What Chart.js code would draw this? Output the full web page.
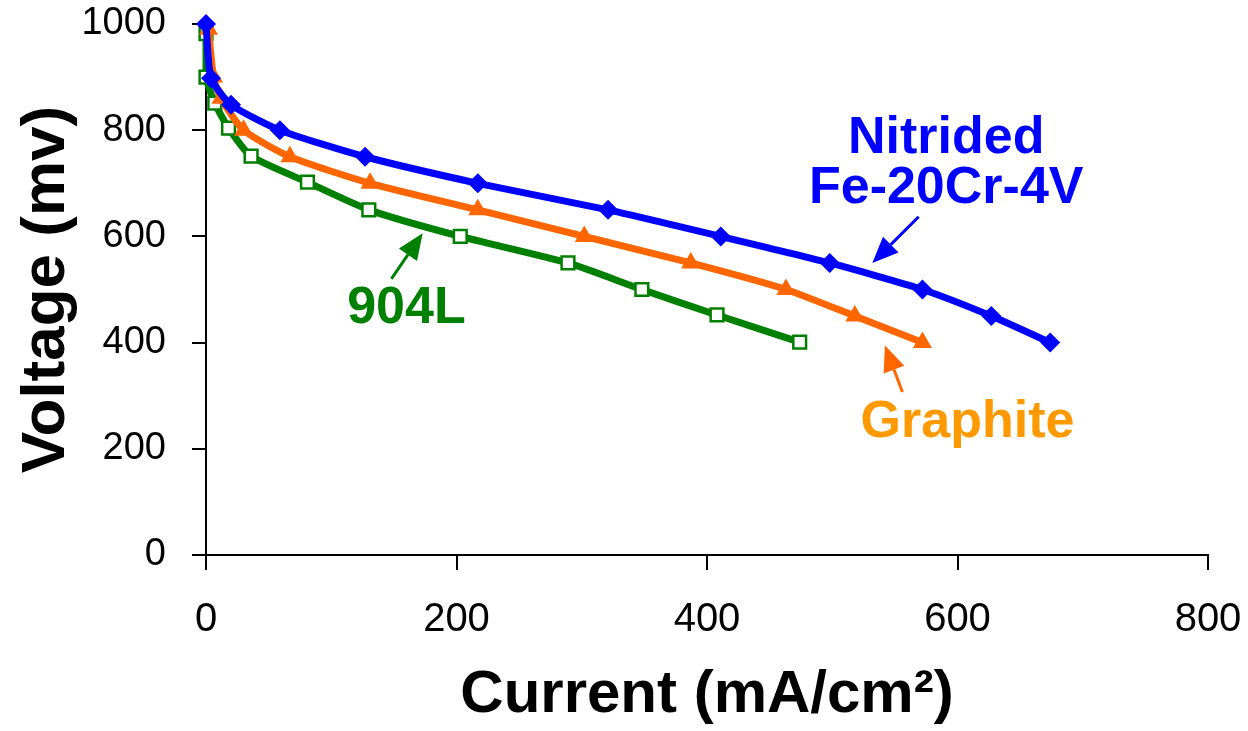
<!DOCTYPE html>
<html>
<head>
<meta charset="utf-8">
<script src="https://cdn.jsdelivr.net/npm/chart.js@4/dist/chart.umd.min.js"></script>
<style>
  html, body { margin: 0; padding: 0; background: #fff; }
  #wrap { width: 1248px; height: 731px; }
</style>
</head>
<body>
<div id="wrap"><canvas id="chart"></canvas></div>
<script>
/// polarisation curves, values

const nitridedCurrent = [0, 4, 20, 59, 127, 217, 321, 411, 498, 572, 627, 674];
const nitridedVoltage = [1000, 898, 848, 800, 750, 700, 650, 600, 550, 500, 450, 400];

const graphiteCurrent = [2, 6, 12, 30, 67, 131, 217, 302, 387, 463, 518, 572];
const graphiteVoltage = [990, 900, 860, 800, 750, 700, 650, 600, 550, 500, 450, 400];

const steelCurrent = [0, 0, 7, 18, 36, 81, 130, 203, 289, 348, 408, 474];
const steelVoltage = [982, 900, 851, 804, 751, 702, 650, 600, 550, 500, 452, 401];

const xTicks = [0, 200, 400, 600, 800];
const yTicks = [0, 200, 400, 600, 800, 1000];

const toPoints = (xs, ys) => xs.map((x, i) => ({ x: x, y: ys[i] }));

const FONT = "'Liberation Sans', Arial, sans-serif";

// labels + arrows, placed in data units
const notes = [
  { lines: ["Nitrided", "Fe-20Cr-4V"], x: 591, y: [757, 663], color: "#0000FF" },
  { lines: ["Graphite"], x: 608, y: [222], color: "#FF9900" },
  { lines: ["904L"], x: 160, y: [437], color: "#008000" },
];
const arrows = [
  { from: [569, 637], to: [532, 550], color: "#0000FF" },
  { from: [556, 307], to: [542, 395], color: "#FF6600" },
  { from: [148, 520], to: [173, 606], color: "#008000" },
];

const notePlugin = {
  id: "notes",
  afterDatasetsDraw(chart) {
    const ctx = chart.ctx;
    const xs = chart.scales.x;
    const ys = chart.scales.y;
    ctx.save();
    ctx.font = "bold 52px " + FONT;
    ctx.textAlign = "center";
    ctx.textBaseline = "alphabetic";
    notes.forEach((n) => {
      ctx.fillStyle = n.color;
      n.lines.forEach((t, i) => {
        ctx.fillText(t, xs.getPixelForValue(n.x), ys.getPixelForValue(n.y[i]));
      });
    });
    arrows.forEach((a) => {
      const x1 = xs.getPixelForValue(a.from[0]);
      const y1 = ys.getPixelForValue(a.from[1]);
      const x2 = xs.getPixelForValue(a.to[0]);
      const y2 = ys.getPixelForValue(a.to[1]);
      const ang = Math.atan2(y2 - y1, x2 - x1);
      const head = 26;
      const half = 11;
      const bx = x2 - head * Math.cos(ang);
      const by = y2 - head * Math.sin(ang);
      ctx.strokeStyle = a.color;
      ctx.fillStyle = a.color;
      ctx.lineWidth = 3;
      ctx.beginPath();
      ctx.moveTo(x1, y1);
      ctx.lineTo(bx, by);
      ctx.stroke();
      ctx.beginPath();
      ctx.moveTo(x2, y2);
      ctx.lineTo(bx + half * Math.sin(ang), by - half * Math.cos(ang));
      ctx.lineTo(bx - half * Math.sin(ang), by + half * Math.cos(ang));
      ctx.closePath();
      ctx.fill();
    });
    ctx.restore();
  },
};

const chartData = {
  datasets: [
    {
      label: "Nitrided Fe-20Cr-4V",
      data: toPoints(nitridedCurrent, nitridedVoltage),
      borderColor: "#0000FF",
      backgroundColor: "#0000FF",
      pointStyle: "rectRot",
      radius: 10,
      pointBorderWidth: 0,
    },
    {
      label: "Graphite",
      data: toPoints(graphiteCurrent, graphiteVoltage),
      borderColor: "#FF6600",
      backgroundColor: "#FF6600",
      pointStyle: "triangle",
      radius: 11,
      pointBorderWidth: 0,
    },
    {
      label: "904L",
      data: toPoints(steelCurrent, steelVoltage),
      borderColor: "#008000",
      backgroundColor: "#FFFFFF",
      pointStyle: "rect",
      radius: 9,
      pointBorderWidth: 2.5,
    },
  ],
};

const chartConfig = {
  type: "line",
  data: chartData,
  plugins: [notePlugin],
  options: {
    animation: false,
    responsive: true,
    maintainAspectRatio: false,
    clip: false,
    layout: { padding: { top: 24, right: 40, left: 0, bottom: 0 } },
    elements: { line: { borderWidth: 7, tension: 0.2 } },
    plugins: { legend: { display: false }, tooltip: { enabled: false } },
    scales: {
      x: {
        type: "linear",
        min: 0,
        max: 800,
        afterBuildTicks: (s) => { s.ticks = xTicks.map((v) => ({ value: v })); },
        afterFit: (s) => { s.height = 176; s.paddingLeft = 0; s.paddingRight = 0; },
        title: {
          display: true,
          text: "Current (mA/cm²)",
          color: "#000",
          font: { family: FONT, size: 60, weight: "bold" },
          padding: { top: 12, bottom: 0 },
        },
        grid: { drawOnChartArea: false, drawTicks: true, tickLength: 15, color: "#000", lineWidth: 2 },
        border: { display: true, color: "#000", width: 2 },
        ticks: { color: "#000", padding: 26, maxRotation: 0, font: { family: FONT, size: 40 }, callback: (v) => String(v) },
      },
      y: {
        type: "linear",
        min: 0,
        max: 1000,
        afterBuildTicks: (s) => { s.ticks = yTicks.map((v) => ({ value: v })); },
        afterFit: (s) => { s.width = 206; s.paddingTop = 0; s.paddingBottom = 0; },
        title: {
          display: true,
          text: "Voltage (mv)",
          color: "#000",
          font: { family: FONT, size: 62, weight: "bold" },
          padding: { top: 10, bottom: 0 },
        },
        grid: { drawOnChartArea: false, drawTicks: true, tickLength: 14, color: "#000", lineWidth: 2 },
        border: { display: true, color: "#000", width: 2 },
        ticks: { color: "#000", padding: 26, font: { family: FONT, size: 38 }, callback: (v) => String(v) },
      },
    },
  },
};

const dataChart = new Chart(document.getElementById("chart"), chartConfig);
</script>
</body>
</html>
